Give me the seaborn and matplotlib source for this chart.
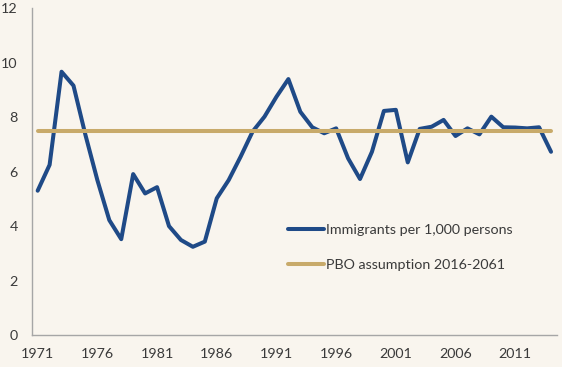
import matplotlib
matplotlib.use("Agg")
import matplotlib.pyplot as plt
import seaborn as sns
import pandas as pd
import numpy as np

years = list(range(1971, 2015))
immigrants = [5.30, 6.25, 9.67, 9.16, 7.35, 5.69, 4.22, 3.52, 5.91, 5.20,
              5.43, 4.00, 3.49, 3.24, 3.43, 5.02, 5.69, 6.55, 7.47, 8.02,
              8.75, 9.40, 8.20, 7.63, 7.41, 7.59, 6.49, 5.73, 6.73, 8.23,
              8.27, 6.34, 7.57, 7.65, 7.90, 7.31, 7.59, 7.37, 8.02, 7.63,
              7.62, 7.59, 7.63, 6.73]
pbo_value = 7.5
pbo = [pbo_value] * len(years)
label_imm = "Immigrants per 1,000 persons"
label_pbo = "PBO assumption 2016-2061"
ytick_vals = [0, 2, 4, 6, 8, 10, 12]
xtick_labels = [1971, 1976, 1981, 1986, 1991, 1996, 2001, 2006, 2011]

bg = "#F9F5EE"
navy = "#1F4A87"
gold = "#C8AA6A"
axis_gray = "#A6A6A6"
text_col = "#3A3A3A"

sns.set_theme(style="white")
plt.rcParams['font.family'] = ['Lato', 'DejaVu Sans']

df = pd.DataFrame({"year": years, "imm": immigrants, "pbo": pbo})

fig = plt.figure(figsize=(5.62, 3.67), dpi=100, facecolor=bg)
ax = fig.add_axes([31.7/562, 1-335/367, (557-31.7)/562, (335-8.3)/367])
ax.set_facecolor(bg)

sns.lineplot(data=df, x="year", y="imm", ax=ax, color=navy, linewidth=2.9,
             label=label_imm, zorder=3)
sns.lineplot(data=df, x="year", y="pbo", ax=ax, color=gold, linewidth=2.9,
             label=label_pbo, zorder=4)

ax.set_xlim(1970.5, 2014.5)
ax.set_ylim(0, 12)
ax.set_xlabel("")
ax.set_ylabel("")

ax.set_xticks(xtick_labels)
ax.set_xticklabels([str(y) for y in xtick_labels])
ax.set_xticks([y - 0.5 for y in xtick_labels], minor=True)
ax.tick_params(axis="x", which="major", length=0, pad=9, labelsize=10.3, labelcolor=text_col)
ax.tick_params(axis="x", which="minor", length=5, width=1, color=axis_gray, direction="out")

ax.set_yticks(ytick_vals)
ax.set_yticklabels([str(v) for v in ytick_vals])
ax.tick_params(axis="y", which="major", length=5, width=1, color=axis_gray,
               direction="out", pad=5, labelsize=10.3, labelcolor=text_col)

for s in ["top", "right"]:
    ax.spines[s].set_visible(False)
for s in ["left", "bottom"]:
    ax.spines[s].set_color(axis_gray)
    ax.spines[s].set_linewidth(1)

ax.legend_.remove()
handles, labels = ax.get_legend_handles_labels()
fig.legend(handles, labels, loc="upper left",
           bbox_to_anchor=(288/562, 1-224/367), frameon=False,
           fontsize=10.3, labelcolor=text_col, handlelength=2.5,
           handletextpad=0.15, labelspacing=1.6, borderpad=0, borderaxespad=0)

fig.savefig("out.png", dpi=100, facecolor=bg)
